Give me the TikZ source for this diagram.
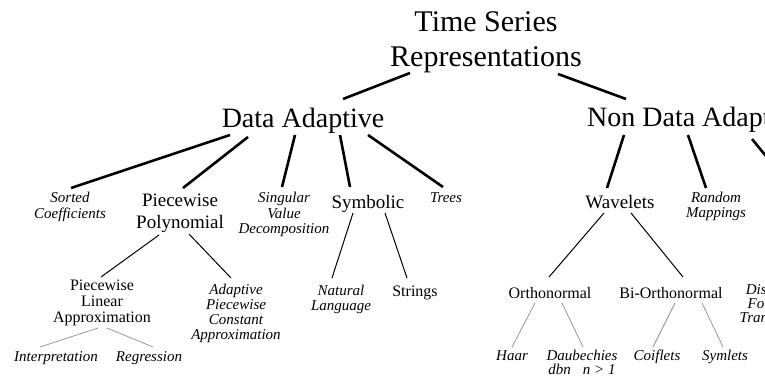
\documentclass[tikz,border=0pt]{standalone}
\usepackage{fontspec}
\setmainfont{Liberation Serif}
\usetikzlibrary{calc}
\tikzset{
  every node/.style={inner sep=0pt, anchor=base, align=center},
  rootfont/.style={font=\fontsize{30}{35}\selectfont},
  bigfont/.style={font=\fontsize{28}{33}\selectfont},
  midfont/.style={font=\fontsize{19}{21}\selectfont},
  smfont/.style={font=\fontsize{16}{16}\selectfont},
  itfont/.style={font=\itshape\fontsize{15}{15}\selectfont},
  itfonttight/.style={font=\itshape\fontsize{15}{14}\selectfont},
  heavy/.style={line width=2.6pt, black},
  medium/.style={line width=1pt, black},
  light/.style={line width=0.7pt, black!45},
}
\begin{document}
\begin{tikzpicture}[x=1pt,y=-1pt]
\useasboundingbox (0,0) rectangle (765,382);
\clip (0,0) rectangle (765,382);
% (multi-line nodes are placed by the baseline of their last line)
% level 0
\node[rootfont] (root) at (486,67) {Time Series\\Representations};
% level 1
\node[bigfont] (da) at (303,128) {Data Adaptive};
\node[bigfont] (nda) at (696,127) {Non Data Adaptive};
% level 2
\node[itfont] (sc) at (70,218) {Sorted\\Coefficients};
\node[midfont] (pp) at (180,228) {Piecewise\\Polynomial};
\node[itfont] (svd) at (284,233) {Singular\\Value\\Decomposition};
\node[midfont] (sym) at (368,208) {Symbolic};
\node[itfont] (trees) at (446,203) {Trees};
\node[midfont] (wav) at (620,208) {Wavelets};
\node[itfont] (rm) at (716,217) {Random\\Mappings};
\coordinate (spec) at (792,188);
% level 3
\node[smfont] (pla) at (102,322) {Piecewise\\Linear\\Approximation};
\node[itfont] (apca) at (236,339) {Adaptive\\Piecewise\\Constant\\Approximation};
\node[itfont] (nl) at (341,310) {Natural\\Language};
\node[smfont] (str) at (415,296) {Strings};
\node[smfont] (orth) at (550,298) {Orthonormal};
\node[smfont] (biorth) at (671,298) {Bi-Orthonormal};
\node[itfonttight] (dft) at (771,322) {Discrete\\Fourier\\Transform};
% level 4
\node[itfont] (interp) at (56,361) {Interpretation};
\node[itfont] (regr) at (149,361) {Regression};
\node[itfont] (haar) at (512,360) {Haar};
\node[itfonttight] (daub) at (582,374) {Daubechies\\dbn\hspace{0.8em}n > 1};
\node[itfont] (coif) at (657,360) {Coiflets};
\node[itfont] (syml) at (725,360) {Symlets};
% connectors
\draw[heavy] ($(root.base)+(-76,6)$) -- ($(da.base)+(40,-29)$);
\draw[heavy] ($(root.base)+(72,7)$) -- ($(nda.base)+(-70,-28)$);
\draw[heavy] ($(da.base)+(-73,7)$) -- ($(sc.base)+(1,-30)$);
\draw[heavy] ($(da.base)+(-55,9)$) -- ($(pp.base)+(3,-40)$);
\draw[heavy] ($(da.base)+(-8,7)$) -- ($(svd.base)+(-2,-46)$);
\draw[heavy] ($(da.base)+(37,7)$) -- ($(sym.base)+(-18,-21)$);
\draw[heavy] ($(da.base)+(65,7)$) -- ($(trees.base)+(-3,-16)$);
\draw[heavy] ($(nda.base)+(-72,8)$) -- ($(wav.base)+(-13,-20)$);
\draw[heavy] ($(nda.base)+(-8,8)$) -- ($(rm.base)+(-10,-29)$);
\draw[heavy] ($(nda.base)+(56,12)$) -- (spec);
\draw[medium] ($(pp.base)+(-21,7)$) -- ($(pla.base)+(-1,-45)$);
\draw[medium] ($(pp.base)+(9,6)$) -- ($(apca.base)+(-5,-61)$);
\draw[medium] ($(sym.base)+(-15,5)$) -- ($(nl.base)+(-9,-32)$);
\draw[medium] ($(sym.base)+(17,5)$) -- ($(str.base)+(-8,-18)$);
\draw[medium] ($(wav.base)+(-16,5)$) -- ($(orth.base)+(-1,-21)$);
\draw[medium] ($(wav.base)+(11,5)$) -- ($(biorth.base)+(12,-21)$);
\draw[light] ($(pla.base)+(-4,6)$) -- ($(interp.base)+(-16,-14)$);
\draw[light] ($(pla.base)+(5,6)$) -- ($(regr.base)+(4,-14)$);
\draw[light] ($(orth.base)+(-15,5)$) -- ($(haar.base)+(0,-13)$);
\draw[light] ($(orth.base)+(12,5)$) -- ($(daub.base)+(1,-27)$);
\draw[light] ($(biorth.base)+(4,5)$) -- ($(coif.base)+(-4,-13)$);
\draw[light] ($(biorth.base)+(31,5)$) -- ($(syml.base)+(-2,-13)$);
\end{tikzpicture}
\end{document}
